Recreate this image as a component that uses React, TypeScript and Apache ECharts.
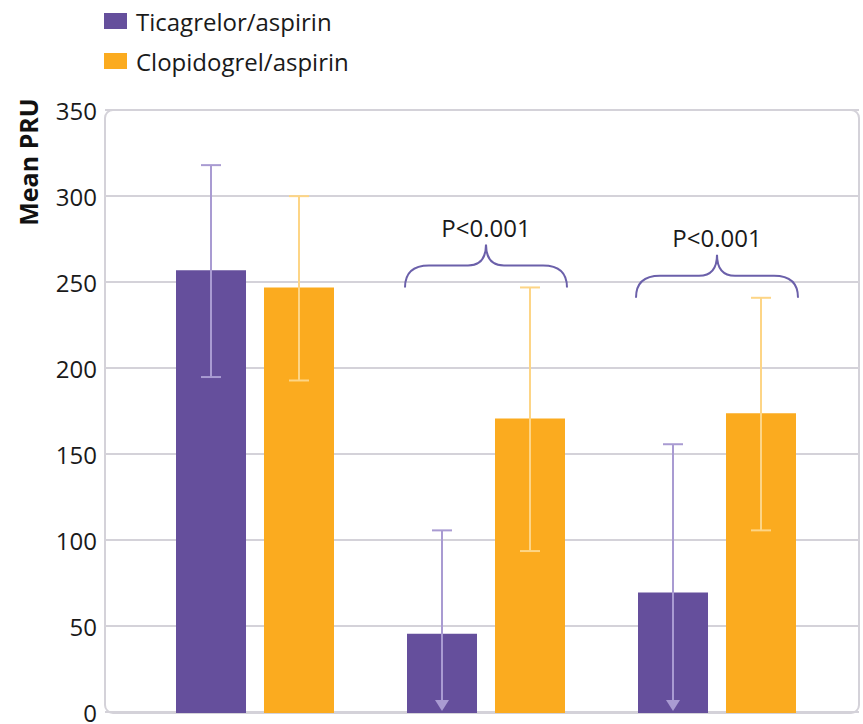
import React, { useEffect, useRef } from "react";
import * as echarts from "echarts";

const categories = ["Baseline", "Follow-up 1", "Follow-up 2"];
const seriesNames = ["Ticagrelor/aspirin", "Clopidogrel/aspirin"];
const ticagrelorMean = [257, 46, 70];
const clopidogrelMean = [247, 171, 174];
const ticagrelorUpper = [318, 106, 156];
const ticagrelorLower = [195, 0, 0];
const ticagrelorTruncated = [0, 1, 1];
const clopidogrelUpper = [300, 247, 241];
const clopidogrelLower = [193, 94, 106];
const braceCategories = [1, 2];
const braceBase = [247, 241];
const braceLabels = ["P<0.001", "P<0.001"];
const yTicks = [0, 50, 100, 150, 200, 250, 300, 350];

const PURPLE = "#654f9c";
const ORANGE = "#fbab1f";
const PURPLE_ERR = "#a99bd2";
const ORANGE_ERR = "#fdd586";
const BRACE = "#6b60aa";
const GRID = "#d4d2d9";
const FONT = "'Open Sans', 'Noto Sans', sans-serif";

export default function App() {
  const ref = useRef<HTMLDivElement>(null);
  useEffect(() => {
    if (!ref.current) return;
    const chart = echarts.init(ref.current, null, { renderer: "svg" });

    const errRender = (offset: number, color: string) => (params: any, api: any) => {
      const cat = api.value(0);
      const lo = api.value(1);
      const hi = api.value(2);
      const trunc = api.value(3);
      const pHi = api.coord([cat, hi]);
      const pLo = api.coord([cat, lo]);
      const x = pHi[0] + offset;
      const cap = 10;
      const style = { stroke: color, lineWidth: 2 };
      const children: any[] = [
        { type: "line", shape: { x1: x, y1: pHi[1], x2: x, y2: trunc ? pLo[1] - 4 : pLo[1] }, style },
        { type: "line", shape: { x1: x - cap, y1: pHi[1], x2: x + cap, y2: pHi[1] }, style },
      ];
      if (trunc) {
        children.push({
          type: "polygon",
          shape: { points: [[x - 7, pLo[1] - 13], [x + 7, pLo[1] - 13], [x, pLo[1] - 2]] },
          style: { fill: color },
        });
      } else {
        children.push({ type: "line", shape: { x1: x - cap, y1: pLo[1], x2: x + cap, y2: pLo[1] }, style });
      }
      return { type: "group", children };
    };

    const braceRender = (params: any, api: any) => {
      const cat = api.value(0);
      const base = api.value(1);
      const p = api.coord([cat, base]);
      const cx = p[0];
      const y0 = p[1];
      const w = 81;
      const h = 43;
      const m = 22;
      const d =
        `M${cx - w},${y0} C${cx - w},${y0 - 15} ${cx - w + 9},${y0 - m} ${cx - w + 24},${y0 - m} ` +
        `L${cx - 18},${y0 - m} C${cx - 6},${y0 - m} ${cx},${y0 - 29} ${cx},${y0 - h} ` +
        `C${cx},${y0 - 29} ${cx + 6},${y0 - m} ${cx + 18},${y0 - m} ` +
        `L${cx + w - 24},${y0 - m} C${cx + w - 9},${y0 - m} ${cx + w},${y0 - 15} ${cx + w},${y0}`;
      return {
        type: "group",
        children: [
          { type: "path", shape: { pathData: d }, style: { stroke: BRACE, lineWidth: 2, fill: "none" } },
          {
            type: "text",
            x: cx,
            y: y0 - h - 17,
            style: {
              text: braceLabels[params.dataIndex],
              font: `24px ${FONT}`,
              fill: "#1a1a1a",
              align: "center",
              verticalAlign: "middle",
            },
          },
        ],
      };
    };

    const option: any = {
      animation: false,
      backgroundColor: "#ffffff",
      textStyle: { fontFamily: FONT },
      legend: {
        data: seriesNames,
        orient: "vertical",
        left: 104,
        top: 9,
        padding: 0,
        itemWidth: 23,
        itemHeight: 16,
        itemGap: 16,
        icon: "rect",
        textStyle: { fontSize: 24, lineHeight: 24, color: "#1a1a1a", fontFamily: FONT, padding: [0, 0, 0, 4] },
      },
      graphic: [
        {
          type: "rect",
          z: -1,
          shape: { x: 105, y: 110, width: 754, height: 603, r: 8 },
          style: { fill: "none", stroke: GRID, lineWidth: 2 },
        },
        {
          type: "text",
          x: 28,
          y: 162,
          rotation: Math.PI / 2,
          style: {
            text: "Mean PRU",
            font: `bold 25px ${FONT}`,
            fill: "#111",
            align: "center",
            verticalAlign: "middle",
          },
        },
      ],
      grid: [
        { left: 105, right: 4, top: 110, bottom: 11 },
        { left: 139.5, right: 30.5, top: 110, bottom: 11 },
      ],
      xAxis: [
        { type: "value", gridIndex: 0, show: false, min: 0, max: 1 },
        {
          type: "category",
          gridIndex: 1,
          data: categories,
          show: false,
        },
      ],
      yAxis: [
        {
          type: "value",
          gridIndex: 0,
          min: 0,
          max: 350,
          interval: 50,
          axisLine: { show: false },
          axisTick: { show: false },
          axisLabel: {
            fontSize: 24,
            lineHeight: 20,
            color: "#1a1a1a",
            margin: 8,
            fontFamily: FONT,
            formatter: (v: number) => (yTicks.includes(v) ? String(v) : ""),
          },
          splitLine: { show: true, lineStyle: { color: GRID, width: 2 } },
        },
        { type: "value", gridIndex: 1, min: 0, max: 350, interval: 50, show: false, splitLine: { show: false } },
      ],
      series: [
        {
          name: seriesNames[0],
          type: "bar",
          xAxisIndex: 1,
          yAxisIndex: 1,
          data: ticagrelorMean,
          barWidth: 70,
          barGap: "25.7%",
          itemStyle: { color: PURPLE },
        },
        {
          name: seriesNames[1],
          type: "bar",
          xAxisIndex: 1,
          yAxisIndex: 1,
          data: clopidogrelMean,
          barWidth: 70,
          barGap: "25.7%",
          itemStyle: { color: ORANGE },
        },
        {
          type: "custom",
          xAxisIndex: 1,
          yAxisIndex: 1,
          z: 5,
          renderItem: errRender(-44, PURPLE_ERR),
          data: categories.map((_, i) => [i, ticagrelorLower[i], ticagrelorUpper[i], ticagrelorTruncated[i]]),
        },
        {
          type: "custom",
          xAxisIndex: 1,
          yAxisIndex: 1,
          z: 5,
          renderItem: errRender(44, ORANGE_ERR),
          data: categories.map((_, i) => [i, clopidogrelLower[i], clopidogrelUpper[i], 0]),
        },
        {
          type: "custom",
          xAxisIndex: 1,
          yAxisIndex: 1,
          z: 6,
          renderItem: braceRender,
          data: braceCategories.map((c, i) => [c, braceBase[i]]),
        },
      ],
    };
    chart.setOption(option);
    return () => chart.dispose();
  }, []);
  return <div ref={ref} style={{ width: 863, height: 724, position: "absolute", left: 0, top: 0 }} />;
}
